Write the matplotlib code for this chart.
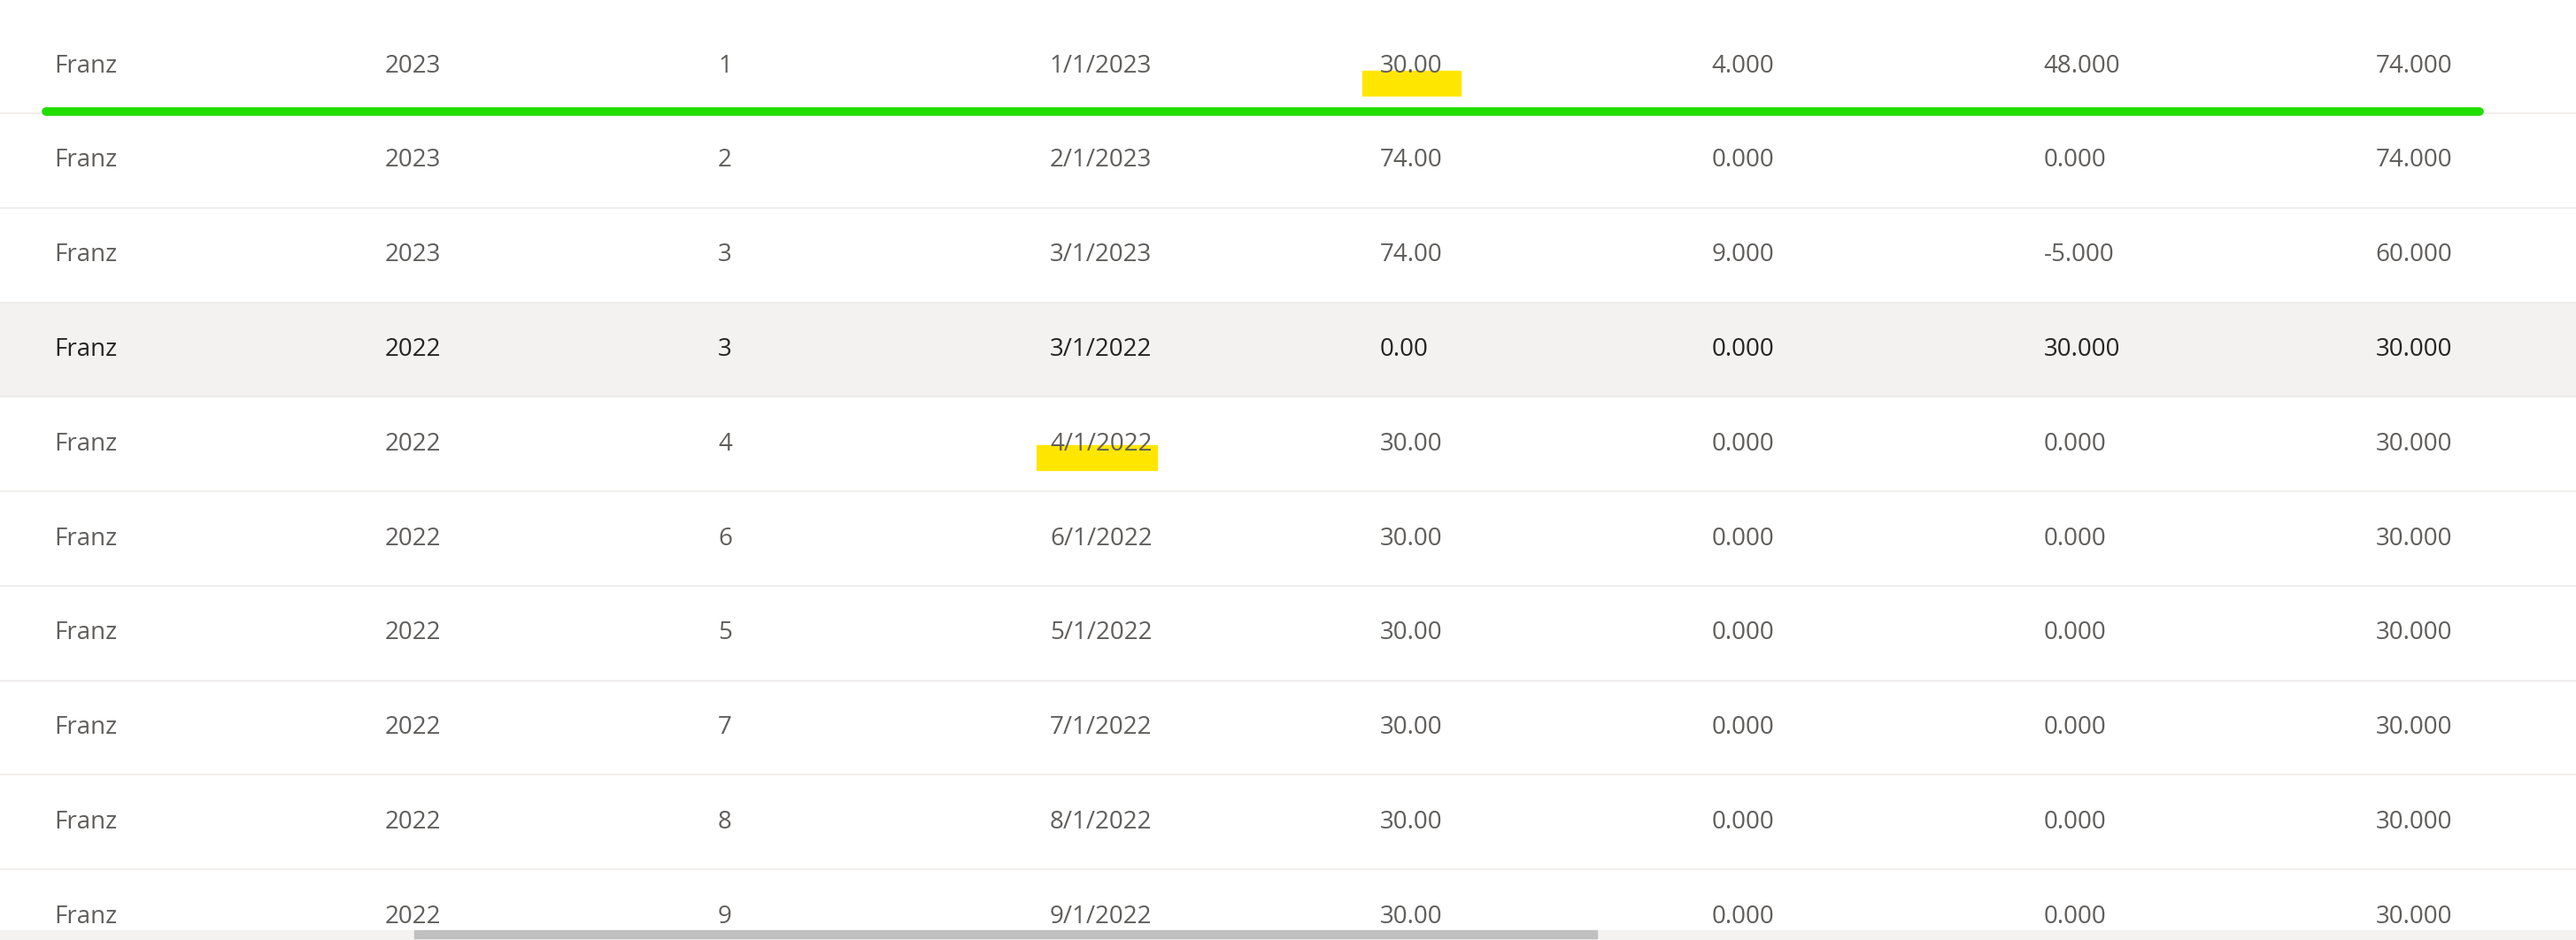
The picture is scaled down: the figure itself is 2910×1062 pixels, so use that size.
import matplotlib.pyplot as plt
from matplotlib.patches import Rectangle

# table data
names = ["Franz"] * 10
years = ["2023", "2023", "2023", "2022", "2022", "2022", "2022", "2022", "2022", "2022"]
months = ["1", "2", "3", "3", "4", "6", "5", "7", "8", "9"]
dates = ["1/1/2023", "2/1/2023", "3/1/2023", "3/1/2022", "4/1/2022",
         "6/1/2022", "5/1/2022", "7/1/2022", "8/1/2022", "9/1/2022"]
opening = ["30.00", "74.00", "74.00", "0.00", "30.00", "30.00", "30.00", "30.00", "30.00", "30.00"]
col_a = ["4.000", "0.000", "9.000", "0.000", "0.000", "0.000", "0.000", "0.000", "0.000", "0.000"]
col_b = ["48.000", "0.000", "-5.000", "30.000", "0.000", "0.000", "0.000", "0.000", "0.000", "0.000"]
closing = ["74.000", "74.000", "60.000", "30.000", "30.000", "30.000", "30.000", "30.000", "30.000", "30.000"]
highlight_row = 3

columns = [names, years, months, dates, opening, col_a, col_b, closing]
col_x = [33, 234, 437, 639, 840, 1042, 1244, 1446]
row_h = 57.5
top = 11.5

plt.rcParams['font.family'] = ['Open Sans', 'DejaVu Sans']
fig = plt.figure(figsize=(29.1, 10.62), dpi=100)
ax = fig.add_axes([0, 0, 1, 1])
ax.set_xlim(0, 1568)
ax.set_ylim(572, 0)
ax.axis('off')

for i in range(len(names)):
    y0 = top + i * row_h
    yc = y0 + row_h / 2
    if i == highlight_row:
        ax.add_patch(Rectangle((0, y0), 1568, row_h, color='#f3f2f1', zorder=0))
    if i > 0:
        ax.plot([0, 1568], [y0, y0], color='#edebe9', lw=1.2, zorder=1)
    color = '#252423' if i == highlight_row else '#605e5c'
    for x, col in zip(col_x, columns):
        ax.text(x, yc, col[i], fontsize=20, color=color, va='center', ha='left', zorder=3)

# annotations
ax.add_patch(Rectangle((829, 43), 60, 15, color='#ffe600', zorder=2))
ax.add_patch(Rectangle((631, 271), 73, 15, color='#ffe600', zorder=2))
ax.plot([28, 1509], [68, 68], color='#22dd00', lw=7, solid_capstyle='round', zorder=4)

# scrollbar
ax.add_patch(Rectangle((0, 566), 1568, 6, color='#f3f2f1', zorder=4))
ax.add_patch(Rectangle((252, 566), 720, 5, color='#c0c0c0', zorder=5))

fig.savefig('out.png', dpi=100)
